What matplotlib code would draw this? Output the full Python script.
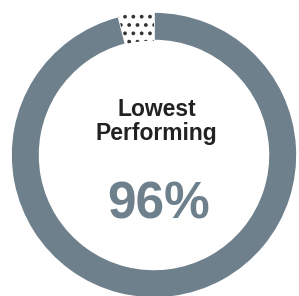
import matplotlib.pyplot as plt

labels = ["Lowest Performing", "Remainder"]
values = [96, 4]
ring_color = "#6f808d"
title = "Lowest\nPerforming"
pct_text = "96%"

plt.rcParams["font.family"] = ["Liberation Sans", "DejaVu Sans"]
plt.rcParams["hatch.linewidth"] = 1.5
plt.rcParams["hatch.color"] = "#333333"

W, H = 299, 296
cx, cy, R = 154, 155, 143
fig = plt.figure(figsize=(W / 100, H / 100), dpi=100)
ax = fig.add_axes([(cx - R) / W, (H - cy - R) / H, 2 * R / W, 2 * R / H])

wedges, _ = ax.pie(values, startangle=90, counterclock=False,
                   colors=[ring_color, "white"], radius=1.0,
                   wedgeprops=dict(width=0.2, edgecolor="white", linewidth=1.2))
wedges[1].set_hatch("..")
wedges[1].set_edgecolor("#333333")
wedges[1].set_linewidth(0)

ax.text(0.02, 0.235, title, ha="center", va="center", fontsize=16.5,
        fontweight="bold", color="#222222", linespacing=1.05)
ax.text(0.03, -0.35, pct_text, ha="center", va="center", fontsize=37,
        fontweight="bold", color=ring_color)
ax.set_aspect("equal")
ax.set_xlim(-1, 1)
ax.set_ylim(-1, 1)
ax.axis("off")

fig.savefig("out.png", dpi=100)
